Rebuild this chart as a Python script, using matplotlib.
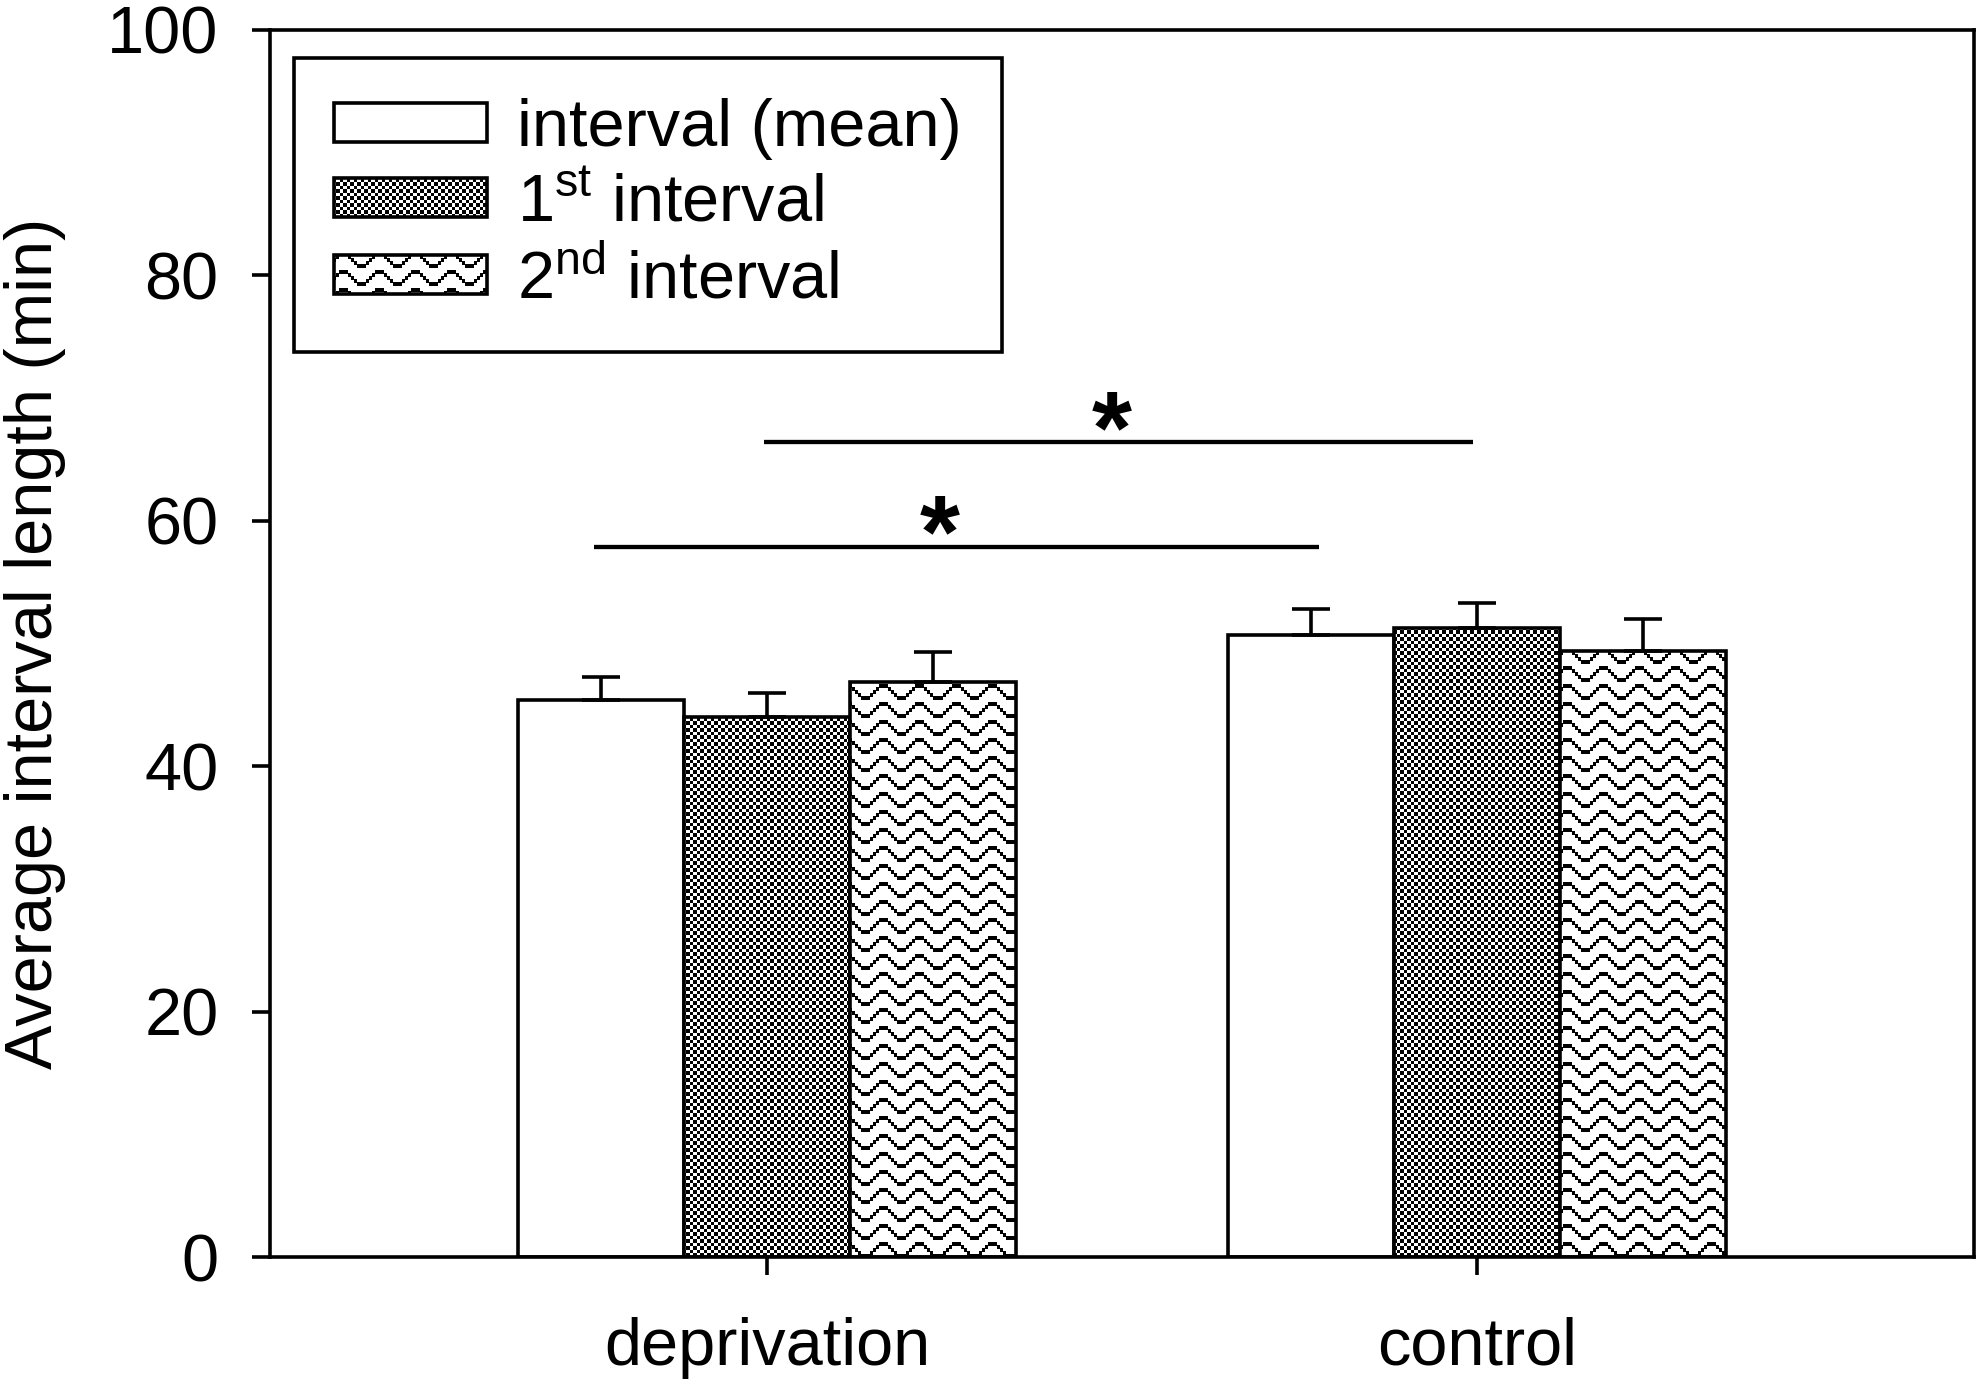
import numpy as np
import matplotlib
matplotlib.use("Agg")
import matplotlib.pyplot as plt

categories = ["deprivation", "control"]
series_labels = ["interval (mean)", r"1$^{\mathrm{st}}$ interval", r"2$^{\mathrm{nd}}$ interval"]
mean_vals = [45.4, 50.7]
mean_err = [1.9, 2.1]
first_vals = [44.0, 51.3]
first_err = [2.0, 2.0]
second_vals = [46.9, 49.4]
second_err = [2.4, 2.6]
yticks = [0, 20, 40, 60, 80, 100]

# significance lines: start, end, height, and where the star sits
sig_x0 = [-0.244, -0.004]
sig_x1 = [0.777, 0.995]
sig_y = [57.9, 66.4]
sig_star_x = [0.243, 0.485]

plt.rcParams["font.family"] = ["Liberation Sans", "DejaVu Sans"]
plt.rcParams["mathtext.fontset"] = "custom"
plt.rcParams["mathtext.rm"] = "Liberation Sans"
plt.rcParams["mathtext.it"] = "Liberation Sans:italic"
plt.rcParams["mathtext.bf"] = "Liberation Sans:bold"

FS = 48
LW = 2.6
W = 0.234


def checker(xs, ys):
    # 7 px period, black part slightly wider than white, like the scanned print
    return ((xs % 7) < 4) == ((ys % 7) < 4)


def zigzag(xs, ys):
    b = (xs // 3) % 12
    off = np.clip(np.abs(b - 6) - 1, 0, 4) * 3
    return ((ys - off) % 18) < 4


fig = plt.figure(figsize=(19.83, 13.87), dpi=100)
H = fig.bbox.height
ax = fig.add_axes([270 / 1983, 130 / 1387, 1704 / 1983, 1227 / 1387])
ax.set_xlim(-0.7, 1.7)
ax.set_ylim(0, 100)


def texture(fn, x0, y0, x1, y1):
    # pixel-aligned pattern (black where fn is true, transparent elsewhere)
    c0, c1 = int(round(x0)), int(round(x1))
    r0, r1 = int(round(H - y1)), int(round(H - y0))
    ys, xs = np.mgrid[r0:r1, c0:c1]
    img = np.zeros((r1 - r0, c1 - c0, 4))
    img[..., 3] = fn(xs, ys)
    return img, c0, c1, r0, r1


x = np.arange(len(categories))
groups = [(mean_vals, mean_err, None), (first_vals, first_err, checker),
          (second_vals, second_err, zigzag)]
handles = []
for i, (vals, err, pat) in enumerate(groups):
    pos = x + (i - 1) * W
    bars = ax.bar(pos, vals, W, color="white", edgecolor="black",
                  linewidth=LW, label=series_labels[i])
    ax.errorbar(pos, vals, yerr=[np.zeros(len(vals)), err], fmt="none",
                ecolor="black", elinewidth=LW, capsize=13.5, capthick=LW)
    handles.append(bars)
    if pat is None:
        continue
    inv = ax.transData.inverted()
    for b in bars:
        (dx0, dy0), (dx1, dy1) = ax.transData.transform(
            [(b.get_x(), 0), (b.get_x() + b.get_width(), b.get_height())])
        img, c0, c1, r0, r1 = texture(pat, dx0, dy0, dx1, dy1)
        (ex0, ey1), (ex1, ey0) = inv.transform([(c0, H - r0), (c1, H - r1)])
        ax.imshow(img, extent=(ex0, ex1, ey0, ey1), origin="upper",
                  aspect="auto", interpolation="nearest", zorder=1.5,
                  clip_path=b)

ax.set_xlim(-0.7, 1.7)
ax.set_ylim(0, 100)

for x0, x1, y, sx in zip(sig_x0, sig_x1, sig_y, sig_star_x):
    ax.plot([x0, x1], [y, y], color="black", lw=3.1, solid_capstyle="butt")
    ax.annotate("*", xy=(sx, y), xytext=(0, -15), textcoords="offset points",
                ha="center", va="baseline", fontsize=74, fontweight="bold")

ax.set_xticks(x, categories)
ax.set_yticks(yticks)
ax.tick_params(direction="out", length=13, width=LW, labelsize=FS, pad=24)
ax.tick_params(axis="x", pad=30)
for s in ax.spines.values():
    s.set_linewidth(LW)
ax.set_ylabel("Average interval length (min)", fontsize=FS, labelpad=30)

leg = ax.legend(handles=handles, loc="upper left", bbox_to_anchor=(0.0141, 0.977),
                borderaxespad=0, borderpad=0.6, handlelength=2.3,
                handleheight=0.52, handletextpad=0.45, labelspacing=0.2,
                fontsize=FS, frameon=True, fancybox=False, framealpha=1,
                edgecolor="black")
leg.get_frame().set_linewidth(LW)

fig.canvas.draw()
renderer = fig.canvas.get_renderer()
for patch, pat in zip(leg.get_patches(), [None, checker, zigzag]):
    if pat is None:
        continue
    bb = patch.get_window_extent(renderer)
    img, c0, c1, r0, r1 = texture(pat, bb.x0, bb.y0, bb.x1, bb.y1)
    fig.figimage(img, xo=c0, yo=H - r1, origin="upper", zorder=3)

fig.savefig("out.png", dpi=100)
